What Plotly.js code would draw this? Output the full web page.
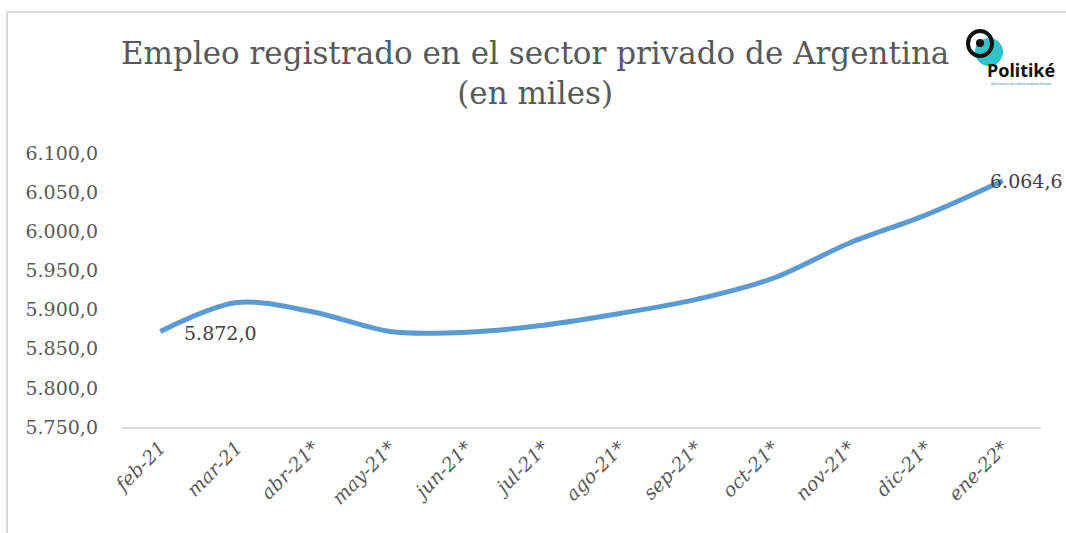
<!DOCTYPE html>
<html>
<head>
<meta charset="utf-8">
<script src="https://cdn.plot.ly/plotly-3.0.1.min.js"></script>
<style>html,body{margin:0;padding:0;background:#fff;}#chart{width:1066px;height:533px;}</style>
</head>
<body>
<div id="chart"></div>
<script>
const months = ["feb-21","mar-21","abr-21*","may-21*","jun-21*","jul-21*","ago-21*","sep-21*","oct-21*","nov-21*","dic-21*","ene-22*"];
const empleo = [5872.0, 5909, 5897, 5872, 5871, 5880, 5895, 5913, 5940, 5985, 6021, 6064.6];
const labelIdx = [0, 11];
const labelText = ["5.872,0", "6.064,6"];

const L = 122, R = 1041, T = 153, B = 427;
const px = v => (v - L) / (R - L);
const py = v => (B - v) / (B - T);
const serif = "DejaVu Serif, Liberation Serif, serif";

const trace = {
  x: months, y: empleo, type: "scatter", mode: "lines",
  line: {color: "#5b9bd5", width: 5, shape: "spline", smoothing: 0.9},
  hoverinfo: "skip"
};

const annotations = [
  {x: months[labelIdx[0]], y: empleo[labelIdx[0]], xref: "x", yref: "y", text: labelText[0],
   showarrow: false, xanchor: "left", yanchor: "middle", xshift: 22, yshift: -2,
   font: {family: serif, size: 19, color: "#404040"}},
  {x: months[labelIdx[1]], y: empleo[labelIdx[1]], xref: "x", yref: "y", text: labelText[1],
   showarrow: false, xanchor: "left", yanchor: "middle", xshift: -15, yshift: 0,
   font: {family: serif, size: 19, color: "#404040"}},
  {x: px(1021), y: py(70), xref: "paper", yref: "paper", text: "<b>Politiké</b>", showarrow: false,
   xanchor: "center", yanchor: "middle", font: {family: "Noto Sans, DejaVu Sans, sans-serif", size: 18, color: "#111"}},
  {x: px(1021), y: py(84), xref: "paper", yref: "paper", text: "Observatorio de políticas públicas Fontana", showarrow: false,
   xanchor: "center", yanchor: "middle", font: {family: "Noto Sans, DejaVu Sans, sans-serif", size: 3, color: "#2a7f9a"}}
];

const shapes = [
  {type: "rect", xref: "paper", yref: "paper", x0: px(7), x1: px(1075), y0: py(545), y1: py(12),
   line: {color: "#d9d9d9", width: 2}, fillcolor: "rgba(0,0,0,0)", layer: "below"},
  {type: "circle", xref: "paper", yref: "paper", x0: px(975), x1: px(1003), y0: py(66), y1: py(38),
   line: {width: 0}, fillcolor: "#2ec4c9", layer: "above"},
  {type: "circle", xref: "paper", yref: "paper", x0: px(968), x1: px(992), y0: py(56), y1: py(31),
   line: {width: 4, color: "#111"}, fillcolor: "rgba(0,0,0,0)", layer: "above"},
  {type: "circle", xref: "paper", yref: "paper", x0: px(976), x1: px(984), y0: py(47), y1: py(39),
   line: {width: 0}, fillcolor: "#111", layer: "above"}
];

const layout = {
  width: 1066, height: 533,
  margin: {l: L, r: 1066 - R, t: T, b: 533 - B, pad: 0},
  paper_bgcolor: "#ffffff", plot_bgcolor: "#ffffff",
  separators: ",.",
  showlegend: false,
  title: {
    text: "Empleo registrado en el sector privado de Argentina<br>(en miles)",
    xref: "container", yref: "container", x: 0.502, xanchor: "center",
    y: 1 - 64 / 533, yanchor: "top",
    font: {family: serif, size: 31, color: "#595959"}
  },
  xaxis: {
    type: "category", range: [-0.5, 11.5],
    showgrid: false, zeroline: false,
    showline: true, linecolor: "#d9d9d9", linewidth: 2,
    ticks: "", tickangle: -45,
    tickfont: {family: serif, size: 19, color: "#595959", style: "italic"}
  },
  yaxis: {
    range: [5750, 6100], dtick: 50, tick0: 5750,
    tickformat: ",.1f",
    showgrid: false, zeroline: false, showline: false,
    ticks: "", ticklabelstandoff: 23,
    tickfont: {family: serif, size: 19, color: "#595959"}
  },
  annotations: annotations,
  shapes: shapes
};

Plotly.newPlot("chart", [trace], layout, {displayModeBar: false, staticPlot: true});
</script>
</body>
</html>
